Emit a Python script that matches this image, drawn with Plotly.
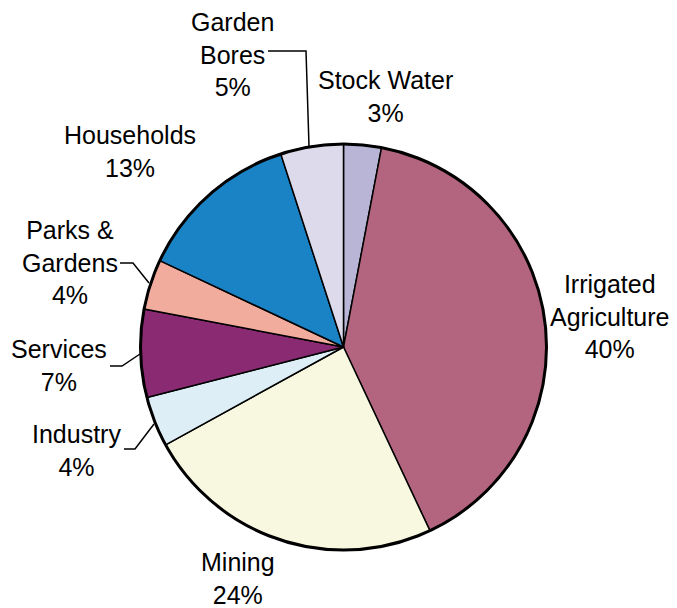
import plotly.graph_objects as go

categories = ["Stock Water", "Irrigated Agriculture", "Mining", "Industry",
              "Services", "Parks & Gardens", "Households", "Garden Bores"]
values = [3, 40, 24, 4, 7, 4, 13, 5]
label_texts = ["Stock Water<br>3%", "Irrigated<br>Agriculture<br>40%", "Mining<br>24%",
               "Industry<br>4%", "Services<br>7%", "Parks &<br>Gardens<br>4%",
               "Households<br>13%", "Garden<br>Bores<br>5%"]
colors = ["#b9b5d7", "#b3657f", "#f8f8e1", "#ddeef7", "#8a2a72", "#f2ac9d", "#1a83c6", "#dddaeb"]

W, H = 677, 608
OFF = 8  # page body margin offset (window pixels)
cx, cy, r = 343.5, 347, 203

def px(x):
    return (x - OFF) / W

def py(y):
    return 1 - (y - OFF) / H

fig = go.Figure(go.Pie(
    labels=categories, values=values, sort=False, direction="clockwise", rotation=0,
    marker=dict(colors=colors, line=dict(color="black", width=1.5)),
    textinfo="none", hoverinfo="label+percent", showlegend=False,
    domain=dict(x=[px(cx - r), px(cx + r)], y=[py(cy + r), py(cy - r)]),
))

# label anchor positions (window pixel centres), layout only
label_pos = [(385, 97), (610, 316), (238, 578), (76, 450), (59, 365), (70, 263), (130, 152), (232, 55)]
for txt, (x, y) in zip(label_texts, label_pos):
    fig.add_annotation(x=px(x), y=py(y), xref="paper", yref="paper", text=txt,
                       showarrow=False, align="center", xanchor="center", yanchor="middle",
                       font=dict(family="Arial, Liberation Sans, sans-serif", size=25, color="black"))

leaders = [
    [(268, 51), (306, 51), (309, 146)],
    [(120, 263), (133, 263), (149, 283)],
    [(110, 366), (122, 366), (140, 354)],
    [(124, 449), (135, 449), (154, 424)],
]
for pts in leaders:
    path = "M " + " L ".join(f"{px(x)},{py(y)}" for x, y in pts)
    fig.add_shape(type="path", path=path, xref="paper", yref="paper",
                  line=dict(color="black", width=1.5))

fig.add_shape(type="circle", xref="paper", yref="paper",
              x0=px(cx - r), x1=px(cx + r), y0=py(cy + r), y1=py(cy - r),
              line=dict(color="black", width=3))

fig.update_layout(width=W, height=H, margin=dict(l=0, r=0, t=0, b=0),
                  paper_bgcolor="white", plot_bgcolor="white")
fig.write_html("out.html")
